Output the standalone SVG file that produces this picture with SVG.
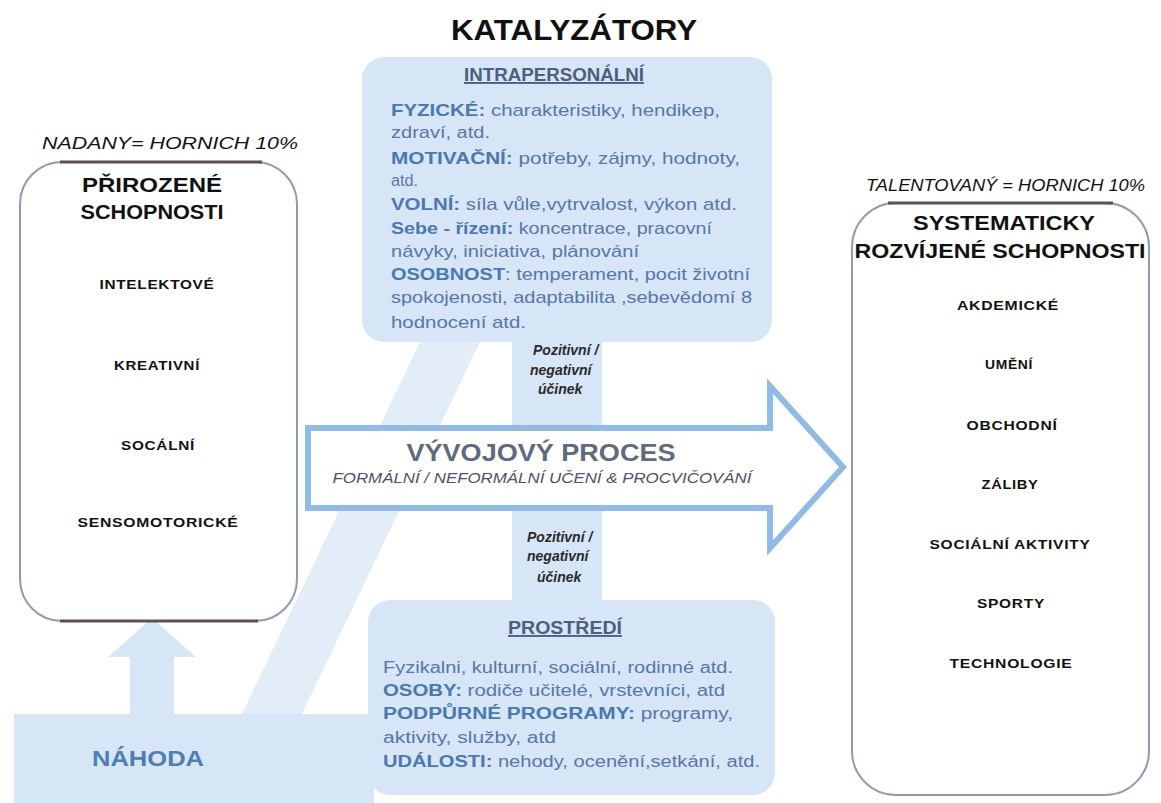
<svg xmlns="http://www.w3.org/2000/svg" width="1161" height="803" viewBox="0 0 1161 803">
<style>
text{font-family:"Liberation Sans",Arial,sans-serif}
.bg{fill:#d6e6f6}
.bg2{fill:#e3edf8}
.box{fill:#ffffff;stroke:#8d9bb3;stroke-width:2}
.edge{stroke:#5e4f52;stroke-width:3}
.item{font-size:13px;font-weight:bold;fill:#111;text-anchor:middle;letter-spacing:0.6px}
.ttl{font-size:20px;font-weight:bold;fill:#111;text-anchor:middle}
.pct{font-size:16px;font-style:italic;fill:#111}
.body{font-size:17px;fill:#5777a6}
.body2{font-size:16px;fill:#5777a6}
.lb{font-weight:bold;fill:#4a78b2}
.hd{font-size:19px;font-weight:bold;fill:#4b5f80;text-decoration:underline}
.eff{font-size:14px;font-style:italic;font-weight:bold;fill:#2a2a2a}
</style>
<rect width="1161" height="803" fill="#ffffff"/>

<g id="background">
  <polygon class="bg2" points="240,718 300,718 480,342 420,342"/>
  <rect class="bg" x="14" y="714" width="360" height="89"/>
  <polygon class="bg" points="130,718 130,657 108,657 152,618 196,657 174,657 174,718"/>
</g>

<g id="catalysts-intrapersonal">
  <rect class="bg" x="362" y="57" width="410" height="285" rx="22"/>
  <text x="554" y="81" class="hd" text-anchor="middle" textLength="180" lengthAdjust="spacingAndGlyphs">INTRAPERSONÁLNÍ</text>
  <text x="391" y="116" class="body" textLength="329" lengthAdjust="spacingAndGlyphs"><tspan class="lb">FYZICKÉ:</tspan> charakteristiky, hendikep,</text>
  <text x="391" y="138" class="body" textLength="99" lengthAdjust="spacingAndGlyphs">zdraví, atd.</text>
  <text x="391" y="164" class="body" textLength="349" lengthAdjust="spacingAndGlyphs"><tspan class="lb">MOTIVAČNÍ:</tspan> potřeby, zájmy, hodnoty,</text>
  <text x="391" y="186" class="body" textLength="27" lengthAdjust="spacingAndGlyphs">atd.</text>
  <text x="391" y="210" class="body" textLength="346" lengthAdjust="spacingAndGlyphs"><tspan class="lb">VOLNÍ:</tspan> síla vůle,vytrvalost, výkon atd.</text>
  <text x="391" y="234" class="body" textLength="321" lengthAdjust="spacingAndGlyphs"><tspan class="lb">Sebe - řízení:</tspan> koncentrace, pracovní</text>
  <text x="391" y="257" class="body" textLength="248" lengthAdjust="spacingAndGlyphs">návyky, iniciativa, plánování</text>
  <text x="391" y="280" class="body" textLength="359" lengthAdjust="spacingAndGlyphs"><tspan class="lb">OSOBNOST</tspan>: temperament, pocit životní</text>
  <text x="391" y="303" class="body" textLength="361" lengthAdjust="spacingAndGlyphs">spokojenosti, adaptabilita ,sebevědomí 8</text>
  <text x="391" y="328" class="body" textLength="135" lengthAdjust="spacingAndGlyphs">hodnocení atd.</text>
</g>

<g id="catalysts-environment">
  <rect class="bg" x="368" y="600" width="407" height="195" rx="22"/>
  <text x="565" y="634" class="hd" text-anchor="middle" textLength="114" lengthAdjust="spacingAndGlyphs">PROSTŘEDÍ</text>
  <text x="383" y="673" class="body2" textLength="350" lengthAdjust="spacingAndGlyphs">Fyzikalni, kulturní, sociální, rodinné atd.</text>
  <text x="383" y="696" class="body2" textLength="342" lengthAdjust="spacingAndGlyphs"><tspan class="lb">OSOBY:</tspan> rodiče učitelé, vrstevníci, atd</text>
  <text x="383" y="719" class="body2" textLength="350" lengthAdjust="spacingAndGlyphs"><tspan class="lb">PODPŮRNÉ PROGRAMY:</tspan>  programy,</text>
  <text x="383" y="743" class="body2" textLength="173" lengthAdjust="spacingAndGlyphs">aktivity, služby, atd</text>
  <text x="383" y="767" class="body2" textLength="377" lengthAdjust="spacingAndGlyphs"><tspan class="lb">UDÁLOSTI:</tspan> nehody, ocenění,setkání, atd.</text>
</g>

<g id="connectors">
  <rect class="bg" x="512" y="340" width="90" height="90"/>
  <rect class="bg" x="512" y="506" width="90" height="96"/>
  <path d="M308,428 L770,428 L770,386 L843,467 L770,548 L770,508 L308,508 Z" fill="#ffffff" stroke="#8fbbe6" stroke-width="6" stroke-linejoin="miter"/>
  <text class="eff" x="533" y="355">Pozitivní /</text>
  <text class="eff" x="530" y="375">negativní</text>
  <text class="eff" x="538" y="394">účinek</text>
  <text class="eff" x="527" y="542">Pozitivní /</text>
  <text class="eff" x="527" y="561">negativní</text>
  <text class="eff" x="537" y="582">účinek</text>
  <text x="541" y="461" font-size="23" font-weight="bold" fill="#5d6a80" text-anchor="middle" textLength="269" lengthAdjust="spacingAndGlyphs">VÝVOJOVÝ PROCES</text>
  <text x="542" y="483" font-size="14" font-style="italic" fill="#4a5468" text-anchor="middle" textLength="419" lengthAdjust="spacingAndGlyphs">FORMÁLNÍ / NEFORMÁLNÍ UČENÍ &amp; PROCVIČOVÁNÍ</text>
</g>

<g id="title">
  <text x="574" y="40" font-size="29" font-weight="bold" fill="#111" text-anchor="middle" textLength="246" lengthAdjust="spacingAndGlyphs">KATALYZÁTORY</text>
</g>

<g id="natural-abilities">
  <text x="42" y="149" class="pct" textLength="256" lengthAdjust="spacingAndGlyphs">NADANY= HORNICH 10%</text>
  <rect class="box" x="20" y="162" width="277" height="459" rx="42"/>
  <line class="edge" x1="60" y1="162" x2="262" y2="162"/>
  <line class="edge" x1="60" y1="621" x2="258" y2="621"/>
  <text x="152" y="192" class="ttl" textLength="140" lengthAdjust="spacingAndGlyphs">PŘIROZENÉ</text>
  <text x="152" y="219" class="ttl" textLength="143" lengthAdjust="spacingAndGlyphs">SCHOPNOSTI</text>
  <text x="157" y="289" class="item" textLength="115" lengthAdjust="spacingAndGlyphs">INTELEKTOVÉ</text>
  <text x="157" y="370" class="item" textLength="86" lengthAdjust="spacingAndGlyphs">KREATIVNÍ</text>
  <text x="158" y="450" class="item" textLength="74" lengthAdjust="spacingAndGlyphs">SOCÁLNÍ</text>
  <text x="158" y="527" class="item" textLength="161" lengthAdjust="spacingAndGlyphs">SENSOMOTORICKÉ</text>
</g>

<g id="chance">
  <text x="92" y="766" font-size="22" font-weight="bold" fill="#4f7db5" textLength="112" lengthAdjust="spacingAndGlyphs">NÁHODA</text>
</g>

<g id="developed-talents">
  <text x="866" y="191" class="pct" textLength="279" lengthAdjust="spacingAndGlyphs">TALENTOVANÝ = HORNICH 10%</text>
  <rect class="box" x="852" y="203" width="297" height="592" rx="44"/>
  <line class="edge" x1="888" y1="203" x2="1113" y2="203"/>
  <text x="1004" y="230" class="ttl" textLength="182" lengthAdjust="spacingAndGlyphs">SYSTEMATICKY</text>
  <text x="1000" y="258" class="ttl" textLength="291" lengthAdjust="spacingAndGlyphs">ROZVÍJENÉ SCHOPNOSTI</text>
  <text x="1008" y="310" class="item" textLength="102" lengthAdjust="spacingAndGlyphs">AKDEMICKÉ</text>
  <text x="1009" y="369" class="item" textLength="48" lengthAdjust="spacingAndGlyphs">UMĚNÍ</text>
  <text x="1012" y="430" class="item" textLength="91" lengthAdjust="spacingAndGlyphs">OBCHODNÍ</text>
  <text x="1010" y="489" class="item" textLength="57" lengthAdjust="spacingAndGlyphs">ZÁLIBY</text>
  <text x="1010" y="549" class="item" textLength="161" lengthAdjust="spacingAndGlyphs">SOCIÁLNÍ AKTIVITY</text>
  <text x="1011" y="608" class="item" textLength="68" lengthAdjust="spacingAndGlyphs">SPORTY</text>
  <text x="1011" y="668" class="item" textLength="123" lengthAdjust="spacingAndGlyphs">TECHNOLOGIE</text>
</g>
</svg>
